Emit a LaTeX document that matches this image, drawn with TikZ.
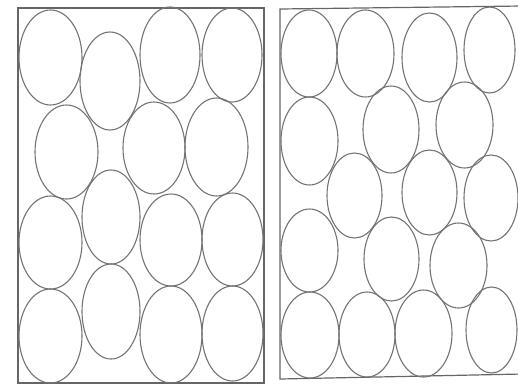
\documentclass[tikz,border=0pt]{standalone}
\begin{document}
\begin{tikzpicture}[x=1pt,y=-1pt,
  cell/.style={draw=black!55,line width=1.1pt},
  frame/.style={draw=black!60,line width=1.2pt}]
\useasboundingbox (0,0) rectangle (518,386);
% left panel
\draw[frame] (18,8) rectangle (264,383);
\foreach \cx/\cy/\rx/\ry in {
  50.5/57.5/31.5/47.5, 110/81/30/49, 170/55/30/48, 232/55/30/47,
  66.5/152/31.5/47, 154/148/31/46, 216.5/147/31.5/49,
  50.5/242.5/31.5/46.5, 111/217/29/47, 171/240/31/46, 232.5/239.5/30.5/46.5,
  50.5/336/31.5/47, 111/311.5/29/47.5, 171/334.5/31/48.5, 232.5/333.5/30.5/47.5}
  \draw[cell] (\cx,\cy) ellipse [x radius=\rx, y radius=\ry];
% right panel
\draw[frame] (522,6) -- (280,9) -- (280,379) -- (522,374);
\foreach \cx/\cy/\rx/\ry in {
  309/53.5/28/43.5, 365.5/53.5/28.5/43.5, 429.5/57.5/27.5/44.5, 489.5/50/25.5/43,
  309.5/141/28.5/44, 391/129.5/28/43.5, 464.5/125/28.5/43,
  354.5/195.5/27.5/42.5, 429.5/192.5/27.5/42.5, 491/198/27/43,
  309.5/250.5/28.5/41.5, 391.5/259/27.5/42, 458.5/265.5/28.5/42.5,
  310/335/29/43, 367/334.5/28/42.5, 423.5/333.5/28.5/43.5, 491.5/330/25.5/43}
  \draw[cell] (\cx,\cy) ellipse [x radius=\rx, y radius=\ry];
\end{tikzpicture}
\end{document}
